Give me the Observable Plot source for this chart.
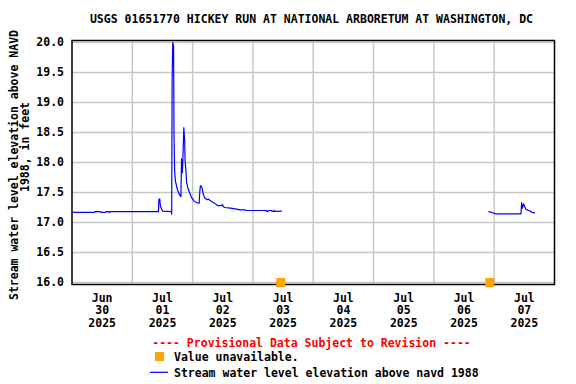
<!DOCTYPE html>
<html><head><meta charset="utf-8">
<script src="https://cdn.jsdelivr.net/npm/d3@7"></script>
<script src="https://cdn.jsdelivr.net/npm/@observablehq/plot@0.6"></script>
<style>body{margin:0;background:#fff}</style>
</head><body><div id="chart"></div>
<script>
const titleText = "USGS 01651770 HICKEY RUN AT NATIONAL ARBORETUM AT WASHINGTON, DC";
const yLabelLines = ["Stream water level elevation above NAVD", "1988, in feet"];
const provisionalText = "---- Provisional Data Subject to Revision ----";
const legendMissing = "Value unavailable.";
const legendSeries = "Stream water level elevation above navd 1988";

const seg1Times = [
  "2025-06-30T00:00","2025-06-30T09:00","2025-06-30T09:05","2025-06-30T11:25","2025-06-30T11:30",
  "2025-06-30T13:25","2025-06-30T13:30","2025-06-30T14:40","2025-06-30T14:45","2025-06-30T15:05",
  "2025-06-30T15:10","2025-07-01T10:25","2025-07-01T10:35","2025-07-01T10:55","2025-07-01T11:10",
  "2025-07-01T11:30","2025-07-01T12:00","2025-07-01T15:35","2025-07-01T15:40","2025-07-01T15:50",
  "2025-07-01T16:05","2025-07-01T16:25","2025-07-01T16:35","2025-07-01T16:50","2025-07-01T17:10",
  "2025-07-01T17:55","2025-07-01T18:50","2025-07-01T19:20","2025-07-01T19:35","2025-07-01T19:55",
  "2025-07-01T20:05","2025-07-01T20:30","2025-07-01T20:50","2025-07-01T21:00","2025-07-01T21:20",
  "2025-07-01T21:35","2025-07-01T22:05","2025-07-01T22:35","2025-07-01T23:10","2025-07-01T23:40",
  "2025-07-02T00:10","2025-07-02T00:40","2025-07-02T01:50","2025-07-02T02:35","2025-07-02T02:50",
  "2025-07-02T03:05","2025-07-02T03:25","2025-07-02T03:50","2025-07-02T04:00","2025-07-02T04:25",
  "2025-07-02T04:50","2025-07-02T05:50","2025-07-02T06:20","2025-07-02T06:50","2025-07-02T07:30",
  "2025-07-02T08:25","2025-07-02T09:10","2025-07-02T10:00","2025-07-02T11:30","2025-07-02T11:50",
  "2025-07-02T12:10","2025-07-02T12:40","2025-07-02T15:05","2025-07-02T18:00","2025-07-02T18:50",
  "2025-07-02T21:00","2025-07-02T21:25","2025-07-03T05:20","2025-07-03T05:25","2025-07-03T06:00",
  "2025-07-03T06:05","2025-07-03T07:30","2025-07-03T07:35","2025-07-03T08:00","2025-07-03T08:30",
  "2025-07-03T08:35","2025-07-03T11:20"
];
const seg1Values = [
  17.17,17.17,17.18,17.18,17.17,
  17.17,17.18,17.18,17.17,17.17,
  17.18,17.18,17.39,17.39,17.28,
  17.24,17.19,17.18,17.14,19.30,
  20.00,19.94,18.50,17.86,17.69,
  17.55,17.46,17.43,18.06,17.83,
  18.00,18.58,18.36,18.03,17.86,
  17.67,17.58,17.52,17.46,17.41,
  17.38,17.35,17.33,17.32,17.50,
  17.61,17.61,17.56,17.52,17.45,
  17.41,17.38,17.39,17.37,17.35,
  17.33,17.31,17.28,17.28,17.30,
  17.27,17.25,17.24,17.22,17.21,
  17.21,17.20,17.20,17.185,17.185,
  17.20,17.20,17.185,17.185,17.20,
  17.185,17.19
];
const seg2Times = [
  "2025-07-06T21:55","2025-07-06T22:50","2025-07-07T00:25","2025-07-07T10:40","2025-07-07T10:55",
  "2025-07-07T11:15","2025-07-07T11:40","2025-07-07T12:05","2025-07-07T12:30","2025-07-07T13:00",
  "2025-07-07T13:40","2025-07-07T14:20","2025-07-07T15:00","2025-07-07T16:05"
];
const seg2Values = [
  17.18,17.17,17.145,17.145,17.33,
  17.24,17.31,17.27,17.23,17.21,
  17.20,17.19,17.17,17.16
];
const missingTimes = ["2025-07-03T11:05","2025-07-06T22:15"];
const missingValue = 16.0;
const dayLabels = ["2025-06-30","2025-07-01","2025-07-02","2025-07-03","2025-07-04","2025-07-05","2025-07-06","2025-07-07"];
const gridDays = ["2025-07-01","2025-07-02","2025-07-03","2025-07-04","2025-07-05","2025-07-06","2025-07-07"];
const yTicks = [16.0,16.5,17.0,17.5,18.0,18.5,19.0,19.5,20.0];
const xDomain = ["2025-06-30T00:00","2025-07-08T00:00"];

const P = s => new Date(s + (s.length === 10 ? "T00:00" : "") + ":00Z");
const months = ["Jan","Feb","Mar","Apr","May","Jun","Jul","Aug","Sep","Oct","Nov","Dec"];

const lineData = [
  ...seg1Times.map((t, i) => ({t: P(t), v: seg1Values[i], s: 1})),
  ...seg2Times.map((t, i) => ({t: P(t), v: seg2Values[i], s: 2}))
];
const missingData = missingTimes.map(t => ({t: P(t), v: missingValue}));
const noonTicks = dayLabels.map(d => new Date(P(d).getTime() + 12 * 3600e3));
const gridTicks = gridDays.map(P);

const FONT = "DejaVu Sans Mono";
const plot = Plot.plot({
  width: 576,
  height: 384,
  marginTop: 40,
  marginBottom: 100,
  marginLeft: 71.5,
  marginRight: 22,
  style: {fontFamily: FONT, fontSize: "11.5px", fontWeight: "bold", color: "black", background: "white"},
  x: {type: "utc", domain: xDomain.map(P)},
  y: {domain: [16 - 2/60, 20 + 2/60]},
  marks: [
    Plot.gridY(yTicks, {stroke: "#c8c8c8", strokeOpacity: 1, strokeWidth: 1.5}),
    Plot.gridX(gridTicks, {stroke: "#c8c8c8", strokeOpacity: 1, strokeWidth: 1.5}),
    Plot.axisY(yTicks, {tickSize: 0, tickPadding: 8, tickFormat: d => d.toFixed(1), label: null}),
    Plot.axisX(noonTicks, {tickSize: 0, tickPadding: 8, lineHeight: 1.11, label: null,
      tickFormat: d => `${months[d.getUTCMonth()]}\n${String(d.getUTCDate()).padStart(2, "0")}\n${d.getUTCFullYear()}`}),
    Plot.line(lineData, {x: "t", y: "v", z: "s", stroke: "#0000ff", strokeWidth: 1.2}),
    Plot.frame({stroke: "black", strokeWidth: 1.5}),
    Plot.dot(missingData, {x: "t", y: "v", symbol: "square", r: 5.1, fill: "#ffa500", stroke: null})
  ]
});
document.getElementById("chart").appendChild(plot);

const svg = d3.select(plot);
const txt = (x, y, s, opts = {}) => svg.append("text")
  .attr("x", x).attr("y", y).attr("dy", "0.35em")
  .attr("text-anchor", opts.anchor || "start")
  .attr("fill", opts.fill || "black")
  .attr("font-family", FONT).attr("font-weight", "bold").attr("font-size", "11.5px")
  .text(s);

txt(311.5, 19, titleText, {anchor: "middle"});
svg.append("text").attr("transform", "translate(13.5,165) rotate(-90)")
  .attr("text-anchor", "middle").attr("dy", "0.35em")
  .attr("font-family", FONT).attr("font-weight", "bold").attr("font-size", "11.5px")
  .text(yLabelLines[0]);
svg.append("text").attr("transform", "translate(24.5,147) rotate(-90)")
  .attr("text-anchor", "middle").attr("dy", "0.35em")
  .attr("font-family", FONT).attr("font-weight", "bold").attr("font-size", "11.5px")
  .text(yLabelLines[1]);

txt(311.5, 343, provisionalText, {anchor: "middle", fill: "#ff0000"});
svg.append("rect").attr("x", 155).attr("y", 352).attr("width", 9).attr("height", 9).attr("fill", "#ffa500");
txt(174, 356.7, legendMissing);
svg.append("line").attr("x1", 150).attr("x2", 168).attr("y1", 372.3).attr("y2", 372.3)
  .attr("stroke", "#0000ff").attr("stroke-width", 1.2);
txt(174, 372.7, legendSeries);
</script>
</body></html>
